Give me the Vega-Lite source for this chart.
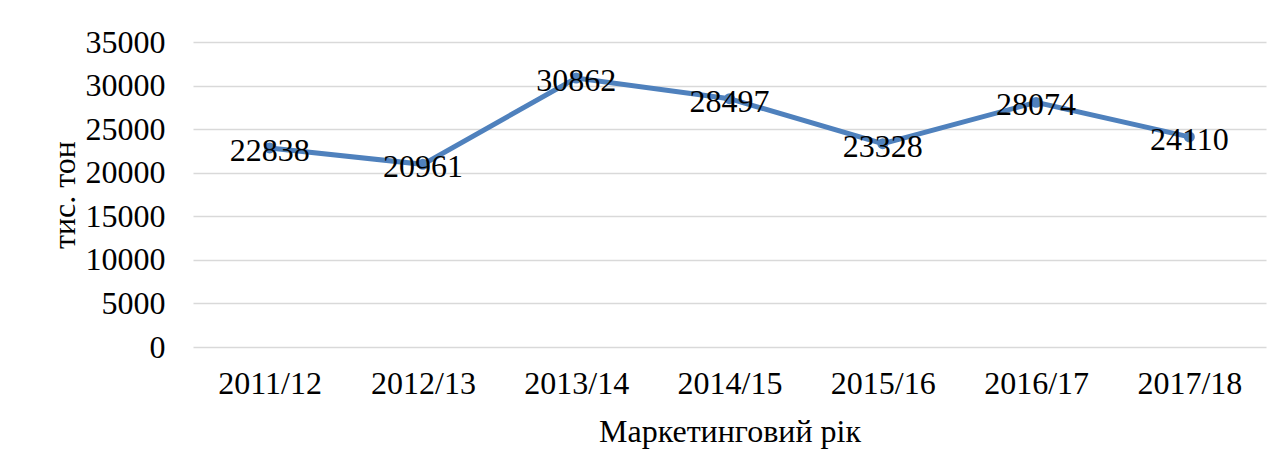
{
  "$schema": "https://vega.github.io/schema/vega-lite/v6.json",
  "autosize": "none",
  "width": 1073,
  "height": 305,
  "padding": {"left": 193, "top": 42, "right": 17, "bottom": 125},
  "background": "white",
  "config": {
    "view": {"stroke": null},
    "font": "Liberation Serif",
    "axis": {"labelFont": "Liberation Serif", "titleFont": "Liberation Serif", "labelFontSize": 32, "titleFontSize": 32, "labelColor": "#000000", "titleColor": "#000000", "titleFontWeight": "normal"}
  },
  "data": {
    "values": [
      {"year": "2011/12", "value": 22838},
      {"year": "2012/13", "value": 20961},
      {"year": "2013/14", "value": 30862},
      {"year": "2014/15", "value": 28497},
      {"year": "2015/16", "value": 23328},
      {"year": "2016/17", "value": 28074},
      {"year": "2017/18", "value": 24110}
    ]
  },
  "encoding": {
    "x": {
      "field": "year", "type": "ordinal", "sort": null,
      "scale": {"type": "point", "padding": 0.5},
      "axis": {"title": "Маркетинговий рік", "labelAngle": 0, "ticks": false, "domain": false, "grid": false, "labelPadding": 21, "titlePadding": 17}
    },
    "y": {
      "field": "value", "type": "quantitative",
      "scale": {"domain": [0, 35000], "nice": false},
      "axis": {"title": "тис. тон", "values": [0, 5000, 10000, 15000, 20000, 25000, 30000, 35000], "ticks": false, "domain": false, "grid": true, "gridColor": "#d9d9d9", "gridWidth": 1.5, "labelPadding": 28, "titlePadding": 4, "format": "d"}
    }
  },
  "layer": [
    {"mark": {"type": "line", "color": "#4f81bd", "strokeWidth": 5}},
    {"mark": {"type": "point", "filled": true, "shape": "circle", "size": 120, "color": "#4f81bd", "opacity": 1}},
    {
      "mark": {"type": "text", "font": "Liberation Serif", "fontSize": 32, "color": "#000000", "baseline": "middle", "align": "center", "dy": 3},
      "encoding": {"text": {"field": "value", "type": "quantitative", "format": "d"}}
    }
  ]
}
